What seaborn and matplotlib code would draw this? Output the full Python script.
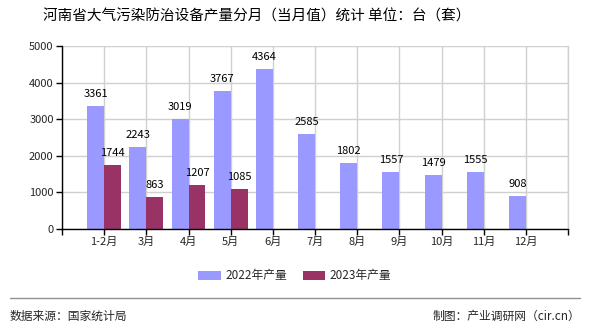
import matplotlib
matplotlib.use("Agg")
import matplotlib.pyplot as plt
import seaborn as sns
import pandas as pd
import numpy as np
from matplotlib.patches import Patch
from matplotlib.lines import Line2D

months = ["1-2月", "3月", "4月", "5月", "6月", "7月", "8月", "9月", "10月", "11月", "12月"]
v2022 = [3361, 2243, 3019, 3767, 4364, 2585, 1802, 1557, 1479, 1555, 908]
v2023 = [1744, 863, 1207, 1085]
series = ["2022年产量", "2023年产量"]
colors = ["#9999FF", "#993366"]
yticks = [0, 1000, 2000, 3000, 4000, 5000]

rows = []
for m, v in zip(months, v2022):
    rows.append({"月份": m, "系列": series[0], "产量": v})
for m, v in zip(months[:len(v2023)], v2023):
    rows.append({"月份": m, "系列": series[1], "产量": v})
df = pd.DataFrame(rows)

sns.set_style("white")
plt.rcParams['font.family'] = ['Noto Sans CJK SC', 'DejaVu Sans']

fig = plt.figure(figsize=(5.9, 3.3), dpi=100)
ax = fig.add_axes([62/590, 1-229/330, (568-62)/590, (229-46)/330])

sns.barplot(data=df, x="月份", y="产量", hue="系列", order=months, hue_order=series,
            palette=colors, width=0.8, gap=0, saturation=1, linewidth=0, edgecolor="none",
            ax=ax, legend=False, zorder=3)

for cont in ax.containers:
    ax.bar_label(cont, fmt="%d", padding=5, fontsize=8, color="black")

ax.set_xlim(-1, 11)
ax.set_ylim(0, 5000)
ax.set_yticks(yticks)
ax.set_yticklabels([str(t) for t in yticks], fontsize=8)
ax.set_xticks(np.arange(-1, 12))
ax.set_xticklabels([""] + months + [""], fontsize=8)
ax.grid(True, color="#d0d0d0", linewidth=1, zorder=0)
ax.set_axisbelow(True)
ax.set_xlabel("")
ax.set_ylabel("")
ax.spines["top"].set_visible(False)
ax.spines["right"].set_color("#d0d0d0")
ax.spines["right"].set_linewidth(1)
for s in ["left", "bottom"]:
    ax.spines[s].set_color("black")
    ax.spines[s].set_linewidth(1)
    ax.spines[s].set_zorder(5)
ax.tick_params(axis="both", direction="out", length=4, width=1, color="black", pad=2,
               bottom=True, left=True)

fig.text(257/590, 1-17/330, "河南省大气污染防治设备产量分月（当月值）统计 单位：台（套）",
         ha="center", va="center", fontsize=10.5, color="black", fontweight="medium")

handles = [Patch(facecolor=c, edgecolor="none") for c in colors]
fig.legend(handles, series, loc="center", bbox_to_anchor=(0.5, 1-276/330), ncol=2,
           frameon=False, fontsize=8.5, handlelength=1.9, handleheight=0.7,
           handletextpad=0.4, columnspacing=1.3)

fig.add_artist(Line2D([10/590, 580/590], [1-298/330, 1-298/330], color="#909090", linewidth=1))
fig.text(10/590, 1-316/330, "数据来源：国家统计局", ha="left", va="center", fontsize=8.5)
fig.text(580/590, 1-316/330, "制图：产业调研网（cir.cn）", ha="right", va="center", fontsize=8.5)

fig.savefig("out.png", dpi=100, facecolor="white")
